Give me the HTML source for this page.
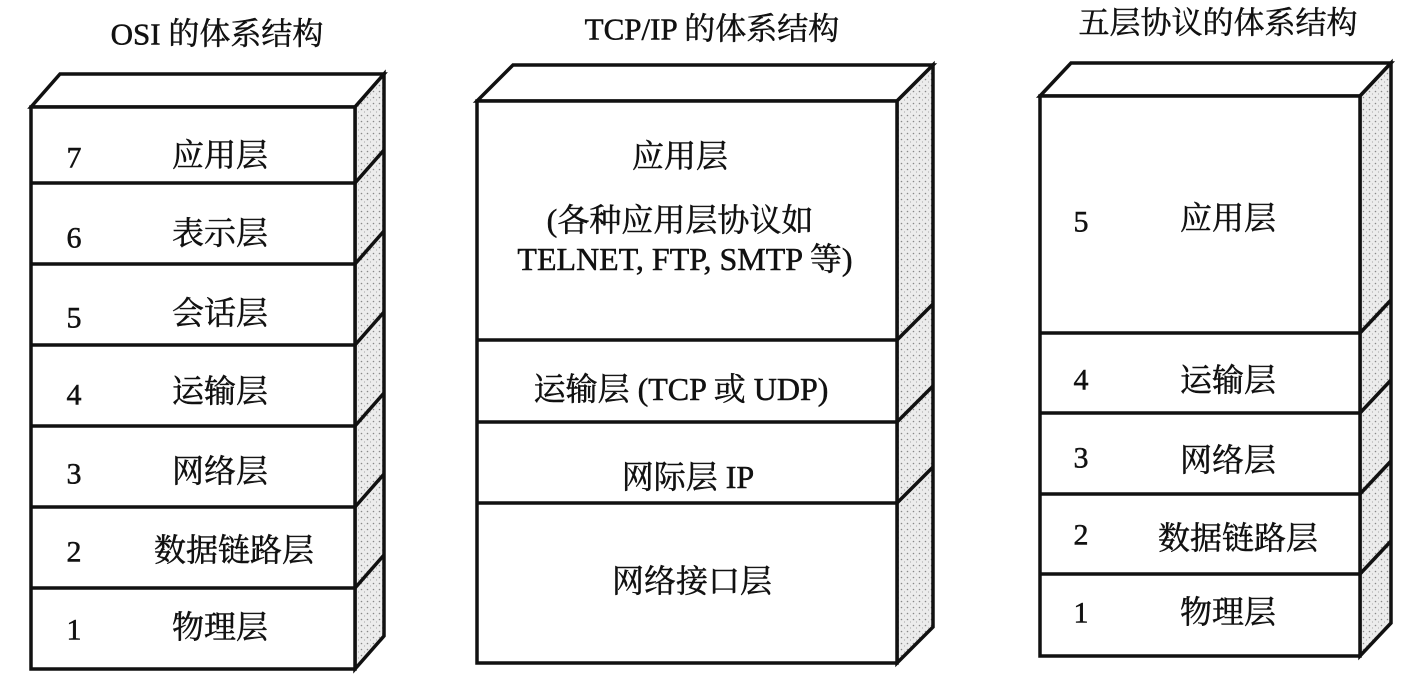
<!DOCTYPE html>
<html><head><meta charset="utf-8"><style>
html,body{margin:0;padding:0;background:#fff;}
svg{display:block;}
text{fill:#111;stroke:#111;stroke-width:0.5px;}
.c{font-family:"Liberation Serif","Noto Serif CJK SC","Noto Sans CJK SC",serif;font-size:32px;}
.t{font-family:"Liberation Serif","Noto Serif CJK SC","Noto Sans CJK SC",serif;font-size:31px;}
.n{font-family:"Liberation Serif",serif;font-size:30px;}
</style></head><body>
<svg width="1424" height="686" viewBox="0 0 1424 686" xmlns="http://www.w3.org/2000/svg">
<defs>
<pattern id="dots" width="6" height="6" patternUnits="userSpaceOnUse">
<rect width="6" height="6" fill="#ececec"/>
<circle cx="1.5" cy="1.5" r="0.8" fill="#888"/>
<circle cx="4.5" cy="4" r="0.6" fill="#aaa"/>
</pattern>
</defs>
<g stroke="#111" stroke-width="3.5" fill="none" stroke-linejoin="miter">
<polygon points="31,107 60,74 384,74 355,107" fill="#fff"/>
<polygon points="355,107 384,74 384,636 355,669" fill="url(#dots)"/>
<rect x="31" y="107" width="324" height="562" fill="#fff"/>
<path d="M31 183H355M31 264H355M31 345H355M31 426H355M31 507H355M31 588H355"/>
<path d="M355 183L384 150M355 264L384 231M355 345L384 312M355 426L384 393M355 507L384 474M355 588L384 555"/>
<polygon points="477,101 513,65 933,65 897,101" fill="#fff"/>
<polygon points="897,101 933,65 933,627 897,663" fill="url(#dots)"/>
<rect x="477" y="101" width="420" height="562" fill="#fff"/>
<path d="M477 340H897M477 422H897M477 503H897"/>
<path d="M897 340L933 304M897 422L933 386M897 503L933 467"/>
<polygon points="1040,96 1071,63 1391,63 1360,96" fill="#fff"/>
<polygon points="1360,96 1391,63 1391,623 1360,656" fill="url(#dots)"/>
<rect x="1040" y="96" width="320" height="560" fill="#fff"/>
<path d="M1040 333H1360M1040 413H1360M1040 494H1360M1040 574H1360"/>
<path d="M1360 333L1391 300M1360 413L1391 380M1360 494L1391 461M1360 574L1391 541"/>
</g>
<g class="t" text-anchor="middle" dominant-baseline="central">
<text x="217" y="34">OSI 的体系结构</text>
<text x="712" y="29">TCP/IP 的体系结构</text>
<text x="1218" y="23">五层协议的体系结构</text>
</g>
<g class="c" text-anchor="middle" dominant-baseline="central">
<text x="220" y="155">应用层</text>
<text x="220" y="233">表示层</text>
<text x="220" y="313">会话层</text>
<text x="220" y="391">运输层</text>
<text x="220" y="471">网络层</text>
<text x="234" y="550">数据链路层</text>
<text x="220" y="627">物理层</text>

<text x="680" y="156">应用层</text>
<text x="680" y="220">(各种应用层协议如</text>
<text x="685" y="259">TELNET, FTP, SMTP 等)</text>
<text x="681" y="389">运输层 (TCP 或 UDP)</text>
<text x="688" y="477">网际层 IP</text>
<text x="692" y="581">网络接口层</text>

<text x="1228" y="218">应用层</text>
<text x="1228" y="380">运输层</text>
<text x="1228" y="460">网络层</text>
<text x="1238" y="538">数据链路层</text>
<text x="1228" y="612">物理层</text>
</g>
<g class="n" text-anchor="middle" dominant-baseline="central">
<text x="74" y="158">7</text>
<text x="74" y="238">6</text>
<text x="74" y="318">5</text>
<text x="74" y="395">4</text>
<text x="74" y="474">3</text>
<text x="74" y="552">2</text>
<text x="74" y="630">1</text>
<text x="1081" y="222">5</text>
<text x="1081" y="380">4</text>
<text x="1081" y="458">3</text>
<text x="1081" y="535">2</text>
<text x="1081" y="613">1</text>
</g>
</svg>
</body></html>
